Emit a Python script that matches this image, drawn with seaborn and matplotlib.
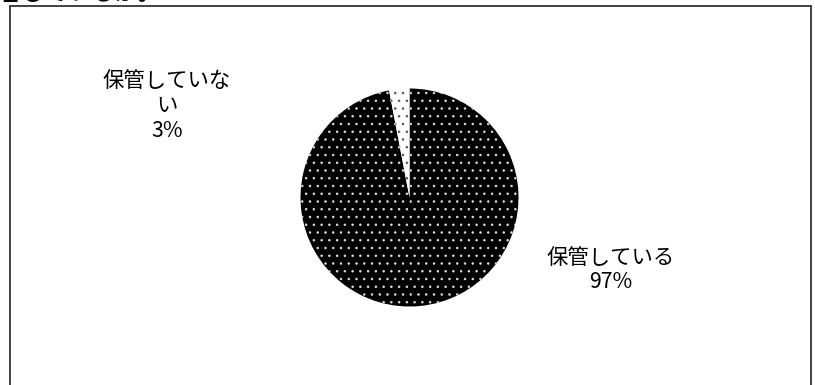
import matplotlib
matplotlib.use("Agg")
import matplotlib.pyplot as plt
from matplotlib.patches import Rectangle
import seaborn as sns

# Share of respondents who keep the documents
categories = ["保管している", "保管していない"]
shares = [97, 3]
label_lines = ["保管している\n97%", "保管していな\nい\n3%"]
heading = "答しているか。"

sns.set_theme(style="white")
plt.rcParams["font.family"] = ["Noto Sans CJK JP", "DejaVu Sans"]

W, H, DPI = 816, 385, 93
fig = plt.figure(figsize=(W / DPI, H / DPI), dpi=DPI)
fig.patch.set_facecolor("white")

def px(x, y):
    """pixel (from top-left) -> figure fraction"""
    return x / W, 1 - y / H

# pie axes: centre (409.5, 197.5), radius 109 px
cx, cy, r = 409.5, 197.5, 109
ax = fig.add_axes([(cx - r) / W, (H - cy - r) / H, 2 * r / W, 2 * r / H])
ax.set_aspect("equal")

plt.rcParams["hatch.linewidth"] = 0.7
wedges, _ = ax.pie(shares, startangle=90, counterclock=False, radius=1,
                   colors=["black", "white"],
                   wedgeprops=dict(linewidth=0))
wedges[0].set_edgecolor("#dddddd")
wedges[0].set_hatch("..")
wedges[0].set_linewidth(0)
wedges[1].set_edgecolor("#555555")
wedges[1].set_hatch("..")
wedges[1].set_linewidth(0)
ax.set_xlim(-1, 1)
ax.set_ylim(-1, 1)
ax.axis("off")

# chart frame
fig.patches.append(Rectangle(px(10, 420), (811 - 10) / W, (420 - 5.5) / H,
                             transform=fig.transFigure, fill=False,
                             edgecolor="#333333", linewidth=1.4))

fs = 16.5
x, y = px(611, 270)
fig.text(x, y, label_lines[0], ha="center", va="center", fontsize=fs,
         linespacing=1.15, color="black")
x, y = px(167, 106)
fig.text(x, y, label_lines[1], ha="center", va="center", fontsize=fs,
         linespacing=1.15, color="black")

x, y = px(-2, -0.2)
fig.text(x, y, heading, ha="left", va="baseline", fontsize=18,
         fontweight="bold", color="black")

fig.savefig("out.png", dpi=DPI)
